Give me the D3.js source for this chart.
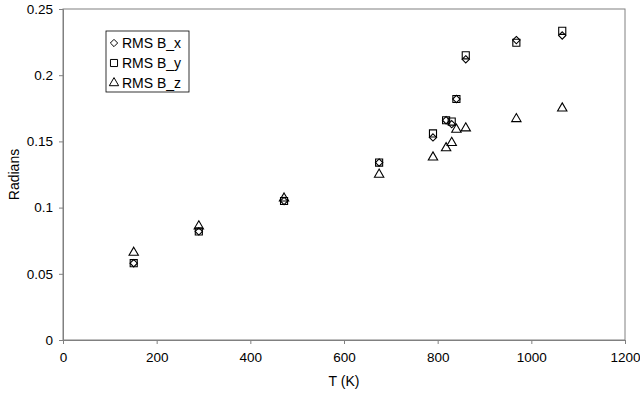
<!DOCTYPE html>
<html>
<head>
<meta charset="utf-8">
<script src="https://cdn.jsdelivr.net/npm/d3@7"></script>
<style>
  body { margin: 0; background: #fff; }
  text { font-family: "Liberation Sans", Arial, sans-serif; }
</style>
</head>
<body>
<svg id="chart" width="640" height="393"></svg>
<script>
// temperatures (K)
var temps = [151, 290, 472, 675, 790, 818, 830, 840, 860, 968, 1066];
// RMS values (radians)
var rmsBx = [0.058, 0.082, 0.105, 0.134, 0.153, 0.166, 0.163, 0.182, 0.212, 0.2265, 0.230];
var rmsBy = [0.058, 0.082, 0.105, 0.134, 0.156, 0.166, 0.165, 0.182, 0.215, 0.2245, 0.2335];
var rmsBz = [0.066, 0.086, 0.107, 0.125, 0.138, 0.145, 0.149, 0.159, 0.160, 0.167, 0.175];

var xTicks = [0, 200, 400, 600, 800, 1000, 1200];
var yTicks = [0, 0.05, 0.1, 0.15, 0.2, 0.25];
var seriesNames = ['RMS B_x', 'RMS B_y', 'RMS B_z'];

var svg = d3.select('#chart');
var pLeft = 63, pRight = 625, pTop = 9, pBottom = 340;

var x = d3.scaleLinear().domain([0, 1200]).range([pLeft, pRight]);
var y = d3.scaleLinear().domain([0, 0.25]).range([pBottom, pTop]);

// plot frame
svg.append('rect')
  .attr('x', pLeft).attr('y', pTop)
  .attr('width', pRight - pLeft).attr('height', pBottom - pTop)
  .style('fill', 'none')
  .style('stroke', '#808080')
  .style('stroke-width', 1);

// axes
var xAxis = svg.append('g')
  .attr('transform', 'translate(0,' + pBottom + ')')
  .call(d3.axisBottom(x).tickValues(xTicks).tickSize(4).tickPadding(8).tickFormat(d3.format('d')));
var yAxis = svg.append('g')
  .attr('transform', 'translate(' + pLeft + ',0)')
  .call(d3.axisLeft(y).tickValues(yTicks).tickSize(4).tickPadding(6).tickFormat(function(d){ return d === 0 ? '0' : String(+d.toFixed(2)); }));

[xAxis, yAxis].forEach(function(a){
  a.select('.domain').style('stroke', '#808080');
  a.selectAll('.tick line').style('stroke', '#808080');
  a.selectAll('.tick text')
    .style('font-family', '"Liberation Sans", Arial, sans-serif')
    .style('font-size', '13.5px')
    .style('fill', '#000');
});

// axis titles
svg.append('text')
  .attr('x', (pLeft + pRight) / 2).attr('y', 386)
  .attr('text-anchor', 'middle')
  .style('font-size', '14px')
  .text('T (K)');
svg.append('text')
  .attr('transform', 'translate(19,' + ((pTop + pBottom) / 2) + ') rotate(-90)')
  .attr('text-anchor', 'middle')
  .style('font-size', '14px')
  .text('Radians');

// marker shapes
var shapes = [
  d3.symbol().type(d3.symbolDiamond2).size(34),
  d3.symbol().type(d3.symbolSquare).size(50),
  d3.symbol().type(d3.symbolTriangle).size(38)
];
var allSeries = [rmsBx, rmsBy, rmsBz];

allSeries.forEach(function(vals, si){
  svg.append('g').selectAll('path')
    .data(vals)
    .enter()
    .append('path')
    .attr('d', shapes[si])
    .attr('transform', function(d, i){
      return 'translate(' + x(temps[i]) + ',' + y(d) + ')';
    })
    .style('fill', 'none')
    .style('stroke', '#000')
    .style('stroke-width', 1.1);
});

// legend
var lg = svg.append('g');
lg.append('rect')
  .attr('x', 106).attr('y', 31)
  .attr('width', 83).attr('height', 61)
  .style('fill', '#fff')
  .style('stroke', '#000')
  .style('stroke-width', 0.8);

seriesNames.forEach(function(name, i){
  var ly = 43 + i * 20;
  lg.append('path')
    .attr('d', shapes[i])
    .attr('transform', 'translate(114,' + ly + ')')
    .style('fill', 'none')
    .style('stroke', '#000')
    .style('stroke-width', 1);
  lg.append('text')
    .attr('x', 122).attr('y', ly + 5)
    .style('font-size', '14px')
    .text(name);
});
</script>
</body>
</html>
